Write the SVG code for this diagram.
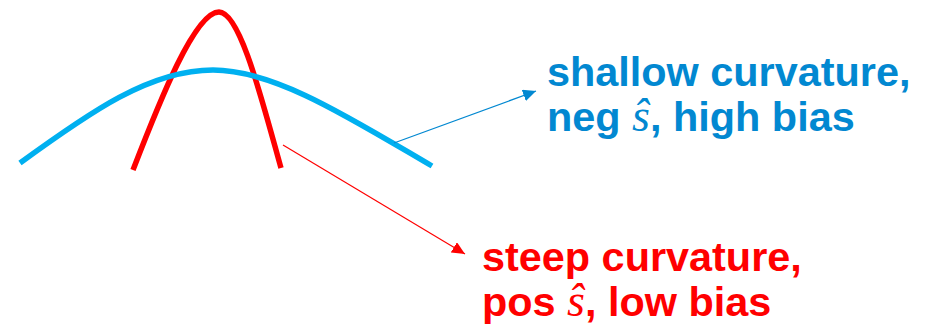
<svg xmlns="http://www.w3.org/2000/svg" width="931" height="329" viewBox="0 0 931 329">
<style>
.lbl{font-family:"Liberation Sans",Arial,sans-serif;font-weight:bold;font-size:41.4px}
.hat{font-family:"Liberation Serif","DejaVu Serif",serif;font-style:italic;font-weight:normal;font-size:46px}
.curve{fill:none;stroke-width:5.5}
</style>
<defs>
<marker id="ab" markerUnits="userSpaceOnUse" markerWidth="14" markerHeight="12" refX="13" refY="6" orient="auto"><path d="M0,0 L13,6 L0,12 Z" fill="#0288D1"/></marker>
<marker id="ar" markerUnits="userSpaceOnUse" markerWidth="14" markerHeight="12" refX="13" refY="6" orient="auto"><path d="M0,0 L13,6 L0,12 Z" fill="#FF0000"/></marker>
</defs>
<g id="red-curve"><path class="curve" stroke="#FF0000" d="M133,170 C160,100 195,12 219,12 C240,12 262,100 281,168"/></g>
<g id="blue-curve"><path class="curve" stroke="#00B0F0" d="M20,163 C90,112 150,70 213,70 C275,70 350,118 432,166"/></g>
<g id="connectors">
<line x1="394" y1="143" x2="536" y2="91" stroke="#0288D1" stroke-width="1.2" marker-end="url(#ab)"/>
<line x1="283" y1="145" x2="465" y2="254" stroke="#FF0000" stroke-width="1.2" marker-end="url(#ar)"/>
</g>
<g id="label-shallow" fill="#0288D1">
<text class="lbl" x="547" y="86">shallow curvature,</text>
<text class="lbl" x="547" y="131">neg <tspan class="hat">ŝ</tspan>, high bias</text>
</g>
<g id="label-steep" fill="#FF0000">
<text class="lbl" x="482" y="271">steep curvature,</text>
<text class="lbl" x="482" y="316">pos <tspan class="hat">ŝ</tspan>, low bias</text>
</g>
</svg>
